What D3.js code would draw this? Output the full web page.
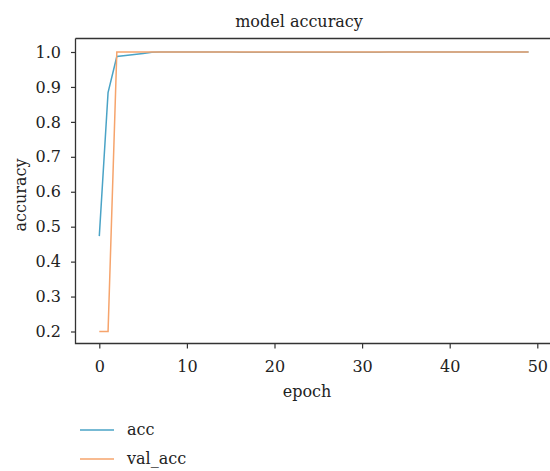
<!DOCTYPE html>
<html>
<head>
<meta charset="utf-8">
<script src="https://cdn.jsdelivr.net/npm/d3@7"></script>
<style>
  body { margin: 0; background: #fff; }
  svg { display: block; }
  svg text { font-family: "DejaVu Serif", serif !important; }
</style>
</head>
<body>
<svg id="chart" width="550" height="471"></svg>
<script>
(function () {
  "use strict";

  const epochs = d3.range(0, 50)
  // approximately
  const acc = [0.473, 0.884, 0.987, 0.990, 0.993, 0.996, 0.999, 1.0, 1.0, 1.0,
    1.0, 1.0, 1.0, 1.0, 1.0, 1.0, 0.999, 0.999, 0.999, 0.999,
    0.999, 0.999, 0.999, 0.999, 0.999, 0.999, 0.999, 0.999, 0.999, 0.999,
    0.999, 0.999, 0.999, 1.0, 1.0, 1.0, 1.0, 1.0, 1.0, 1.0,
    1.0, 1.0, 1.0, 1.0, 1.0, 1.0, 1.0, 1.0, 1.0, 1.0]
  const valAcc = [0.2, 0.2].concat(d3.range(48).map(() => 1.0))
  const xTicks = [0, 10, 20, 30, 40, 50]
  const yTicks = [0.2, 0.3, 0.4, 0.5, 0.6, 0.7, 0.8, 0.9, 1.0]
  const series = [
    { name: "acc", values: acc, color: "#4aa3c6" },
    { name: "val_acc", values: valAcc, color: "#f6a46c" }
  ]

  let svg = d3.select("#chart")
  const left = 75.5, right = 552, top = 38.5, bottom = 343.5

  let x = d3.scaleLinear().domain([0, 50]).range([99.3, 537.3])
  let y = d3.scaleLinear().domain([0.2, 1.0]).range([331.5, 52])

  // frame
  svg.append("path")
    .attr("d", `M${left},${top}H${right}M${left},${top}V${bottom}H${right}`)
    .attr("fill", "none")
    .attr("stroke", "#333")
    .attr("stroke-width", 1.3)

  let xAxis = svg.append("g")
    .attr("transform", `translate(0,${bottom})`)
    .call(d3.axisBottom(x).tickValues(xTicks).tickSize(5).tickPadding(12).tickFormat(d3.format("d")))
  xAxis.select(".domain").remove()

  let yAxis = svg.append("g")
    .attr("transform", `translate(${left},0)`)
    .call(d3.axisLeft(y).tickValues(yTicks).tickSize(4.5).tickPadding(10).tickFormat(d3.format(".1f")))
  yAxis.select(".domain").remove()

  for (let ax of [xAxis, yAxis]) {
    ax.attr("font-size", 16)
    ax.selectAll("line").attr("stroke", "#333").attr("stroke-width", 1.2)
    ax.selectAll("text").attr("fill", "#222")
  }

  let line = d3.line()
    .x((d, i) => x(epochs[i]))
    .y(d => y(d))

  for (let s of series) {
    svg.append("path")
      .datum(s.values)
      .attr("d", line)
      .attr("fill", "none")
      .attr("stroke", s.color)
      .attr("stroke-width", 1.5)
  }

  svg.append("text")
    .attr("x", 299).attr("y", 27)
    .attr("text-anchor", "middle")
    .attr("font-size", 16)
    .attr("fill", "#222")
    .text("model accuracy")

  svg.append("text")
    .attr("x", 307).attr("y", 397)
    .attr("text-anchor", "middle")
    .attr("font-size", 16)
    .attr("fill", "#222")
    .text("epoch")

  svg.append("text")
    .attr("transform", "translate(26,195) rotate(-90)")
    .attr("text-anchor", "middle")
    .attr("font-size", 16)
    .attr("fill", "#222")
    .text("accuracy")

  // legend
  let legend = svg.append("g")
  series.forEach((s, i) => {
    let ly = 430 + i * 29
    legend.append("line")
      .attr("x1", 80).attr("x2", 114)
      .attr("y1", ly).attr("y2", ly)
      .attr("stroke", s.color)
      .attr("stroke-width", 1.5)
    legend.append("text")
      .attr("x", 127).attr("y", ly + 5)
      .attr("font-size", 16)
      .attr("fill", "#222")
      .text(s.name)
  })
})();
</script>
</body>
</html>
